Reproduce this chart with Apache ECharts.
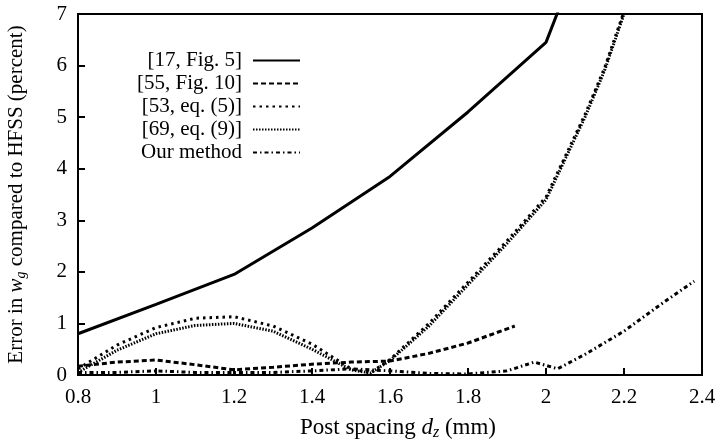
<!DOCTYPE html>
<html>
<head>
<meta charset="utf-8">
<script src="https://cdn.jsdelivr.net/npm/echarts@6/dist/echarts.min.js"></script>
<style>
  html, body { margin: 0; padding: 0; background: #fff; }
  #main { width: 720px; height: 442px; }
</style>
</head>
<body>
<div id="main"></div>
<script>
// 数据
var names = ['[17, Fig. 5]', '[55, Fig. 10]', '[53, eq. (5)]', '[69, eq. (9)]', 'Our method'];

var ref17X = [0.8, 1.0, 1.2, 1.4, 1.6, 1.8, 2.0, 2.1];
var ref17Y = [0.8, 1.37, 1.95, 2.85, 3.85, 5.1, 6.45, 8.4];

var ref55X = [0.8, 0.9, 1.0, 1.1, 1.2, 1.3, 1.4, 1.5, 1.6, 1.7, 1.8, 1.92];
var ref55Y = [0.17, 0.25, 0.29, 0.2, 0.1, 0.15, 0.21, 0.25, 0.27, 0.42, 0.62, 0.95];

var ref53X = [0.8, 0.9, 1.0, 1.1, 1.2, 1.3, 1.4, 1.5, 1.55, 1.6, 1.7, 1.8, 1.9, 2.0, 2.05, 2.1, 2.15, 2.2];
var ref53Y = [0.12, 0.58, 0.92, 1.1, 1.13, 0.95, 0.6, 0.12, 0.04, 0.3, 1.0, 1.8, 2.6, 3.45, 4.25, 5.05, 5.95, 7.05];

var ref69X = [0.8, 0.9, 1.0, 1.1, 1.2, 1.3, 1.4, 1.5, 1.55, 1.6, 1.7, 1.8, 1.9, 2.0, 2.05, 2.1, 2.15, 2.2];
var ref69Y = [0.05, 0.48, 0.8, 0.96, 1.0, 0.85, 0.5, 0.1, 0.04, 0.28, 0.95, 1.75, 2.55, 3.4, 4.2, 5.0, 5.9, 7.0];

var oursX = [0.8, 0.9, 1.0, 1.1, 1.2, 1.3, 1.4, 1.5, 1.6, 1.7, 1.8, 1.9, 1.97, 2.03, 2.1, 2.2, 2.3, 2.38];
var oursY = [0.05, 0.05, 0.08, 0.05, 0.05, 0.05, 0.08, 0.12, 0.08, 0.03, 0.02, 0.08, 0.25, 0.12, 0.4, 0.85, 1.4, 1.82];

var xTicks = [0.8, 2.4, 0.2];
var yTicks = [0, 7, 1];

function pairs(xs, ys) {
    return xs.map(function (x, i) { return [x, ys[i]]; });
}

var font = "'Liberation Serif', 'Times New Roman', serif";
var myChart = echarts.init(document.getElementById('main'));

function mkSeries(name, xs, ys, dash, w) {
    return {
        name: name,
        type: 'line',
        data: pairs(xs, ys),
        showSymbol: false,
        symbol: 'none',
        clip: true,
        lineStyle: { color: '#000', width: w, type: dash, cap: 'butt' },
        itemStyle: { color: '#000' },
        emphasis: { disabled: true }
    };
}

function nameRich(size) {
    return {
        i: { fontFamily: font, fontSize: size, fontStyle: 'italic', color: '#000' },
        s: { fontFamily: font, fontSize: size - 7, fontStyle: 'italic', color: '#000', padding: [10, 0, 0, 0] }
    };
}

var option = {
    animation: false,
    backgroundColor: '#fff',
    grid: {
        left: 78, right: 18, top: 14, bottom: 67,
        containLabel: false,
        outerBoundsMode: 'none',
        show: true, borderColor: '#000', borderWidth: 2
    },
    legend: {
        orient: 'vertical',
        left: 132,
        top: 45,
        align: 'right',
        itemWidth: 47,
        itemHeight: 14,
        itemGap: 2,
        data: names,
        itemStyle: { opacity: 0 },
        textStyle: {
            fontFamily: font, fontSize: 21, color: '#000',
            width: 118, align: 'right', padding: [0, 6, 0, 0]
        }
    },
    xAxis: {
        type: 'value',
        min: xTicks[0], max: xTicks[1], interval: xTicks[2],
        name: 'Post spacing {i|d}{s|z} (mm)',
        nameLocation: 'middle',
        nameGap: 40,
        nameTextStyle: {
            fontFamily: font, fontSize: 23, color: '#000',
            padding: [0, 0, 0, 16], rich: nameRich(23)
        },
        axisLine: { show: true, lineStyle: { color: '#000', width: 2 } },
        axisTick: { show: true, inside: true, length: 7, lineStyle: { color: '#000', width: 2 } },
        splitLine: { show: false },
        axisLabel: {
            fontFamily: font, fontSize: 21, color: '#000', margin: 12,
            formatter: function (v) { return String(Math.round(v * 10) / 10); }
        }
    },
    yAxis: {
        type: 'value',
        min: yTicks[0], max: yTicks[1], interval: yTicks[2],
        name: 'Error in {i|w}{s|g} compared to HFSS (percent)',
        nameLocation: 'middle',
        nameGap: 50,
        nameRotate: 90,
        nameTextStyle: { fontFamily: font, fontSize: 21, color: '#000', rich: nameRich(21) },
        axisLine: { show: true, lineStyle: { color: '#000', width: 2 } },
        axisTick: { show: true, inside: true, length: 7, lineStyle: { color: '#000', width: 2 } },
        splitLine: { show: false },
        axisLabel: { fontFamily: font, fontSize: 21, color: '#000', margin: 11 }
    },
    series: [
        mkSeries(names[0], ref17X, ref17Y, 'solid', 3),
        mkSeries(names[1], ref55X, ref55Y, [5, 3], 3),
        mkSeries(names[2], ref53X, ref53Y, [2.5, 4], 3),
        mkSeries(names[3], ref69X, ref69Y, [1.5, 1.5], 3),
        mkSeries(names[4], oursX, oursY, [4, 3, 1.5, 3], 3)
    ]
};

myChart.setOption(option);
</script>
</body>
</html>
